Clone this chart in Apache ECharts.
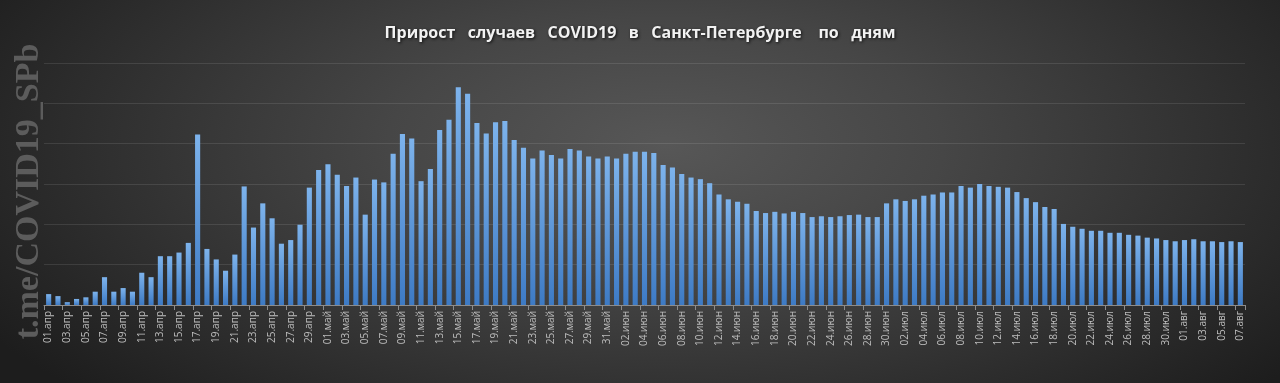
<!DOCTYPE html>
<html>
<head>
<meta charset="utf-8">
<script src="https://cdn.jsdelivr.net/npm/echarts@6/dist/echarts.min.js"></script>
<style>
html,body{margin:0;padding:0;}
#chart{width:1280px;height:383px;background:radial-gradient(ellipse 62% 95% at 52% 38%, #575757 0%, #464646 35%, #303030 70%, #1d1d1d 100%);}
</style>
</head>
<body>
<div id="chart"></div>
<script>
const months = ['апр','май','июн','июл','авг'];
const monthDays = [30, 31, 30, 31, 7];

const categories = [];
monthDays.forEach(function(n, m){
  for (let d = 1; d <= n; d++) categories.push((d < 10 ? '0' + d : '' + d) + '.' + months[m]);
});

const aprilValues = [27,22,7,15,19,33,69,33,42,33,80,69,121,121,130,154,423,139,113,85,125,294,192,252,215,152,161,199,291,335];
const mayValues = [349,323,295,316,224,311,304,375,424,413,307,337,434,459,540,524,451,425,453,456,409,390,363,383,372,363,387,383,368,363,368];
const juneValues = [363,375,380,380,377,347,341,325,316,312,302,274,262,256,251,233,228,231,227,231,228,218,220,218,220,223,224,218,218,252];
const julyValues = [262,258,262,271,274,279,279,295,291,300,295,293,291,280,265,255,243,238,201,194,189,184,184,179,179,174,172,167,165,161,158];
const augustValues = [161,163,158,158,156,158,156];

const values = [].concat(aprilValues, mayValues, juneValues, julyValues, augustValues);

const titleText = 'Прирост   случаев   COVID19   в   Санкт-Петербурге    по   дням';
const watermark = 't.me/COVID19_SPb';

const chart = echarts.init(document.getElementById('chart'), null, {renderer:'canvas'});
chart.setOption({
  backgroundColor: 'transparent',
  animation: false,
  title: {
    text: titleText,
    left: 'center',
    top: 20,
    textStyle: {
      color: '#f2f2f2',
      fontFamily: 'Open Sans',
      fontWeight: 'bold',
      fontSize: 16,
      textShadowColor: 'rgba(0,0,0,0.8)',
      textShadowBlur: 3,
      textShadowOffsetX: 1,
      textShadowOffsetY: 1
    }
  },
  graphic: [{
    type: 'text',
    left: 12,
    top: 'middle',
    rotation: Math.PI / 2,
    style: {
      text: watermark,
      fill: '#5c5c5c',
      font: 'bold 34px "Liberation Serif", "DejaVu Serif", serif'
    }
  }],
  grid: {left: 44, right: 35, top: 63, bottom: 78, containLabel: false},
  xAxis: {
    type: 'category',
    data: categories,
    axisLine: {lineStyle: {color: '#8c8c8c', width: 1}},
    axisTick: {show: true, interval: 1, length: 5, lineStyle: {color: '#8c8c8c'}},
    axisLabel: {
      interval: 1,
      rotate: 90,
      color: '#bdbdbd',
      fontSize: 10,
      fontFamily: 'Open Sans',
      margin: 6
    }
  },
  yAxis: {
    type: 'value',
    min: 0,
    max: 600,
    interval: 100,
    axisLabel: {show: false},
    axisLine: {show: false},
    axisTick: {show: false},
    splitLine: {lineStyle: {color: 'rgba(255,255,255,0.1)', width: 1}}
  },
  series: [{
    type: 'bar',
    data: values,
    barWidth: '55%',
    itemStyle: {
      color: new echarts.graphic.LinearGradient(0, 0, 0, 1, [
        {offset: 0, color: '#7db3ec'},
        {offset: 1, color: '#3d7ac4'}
      ])
    }
  }]
});
</script>
</body>
</html>
